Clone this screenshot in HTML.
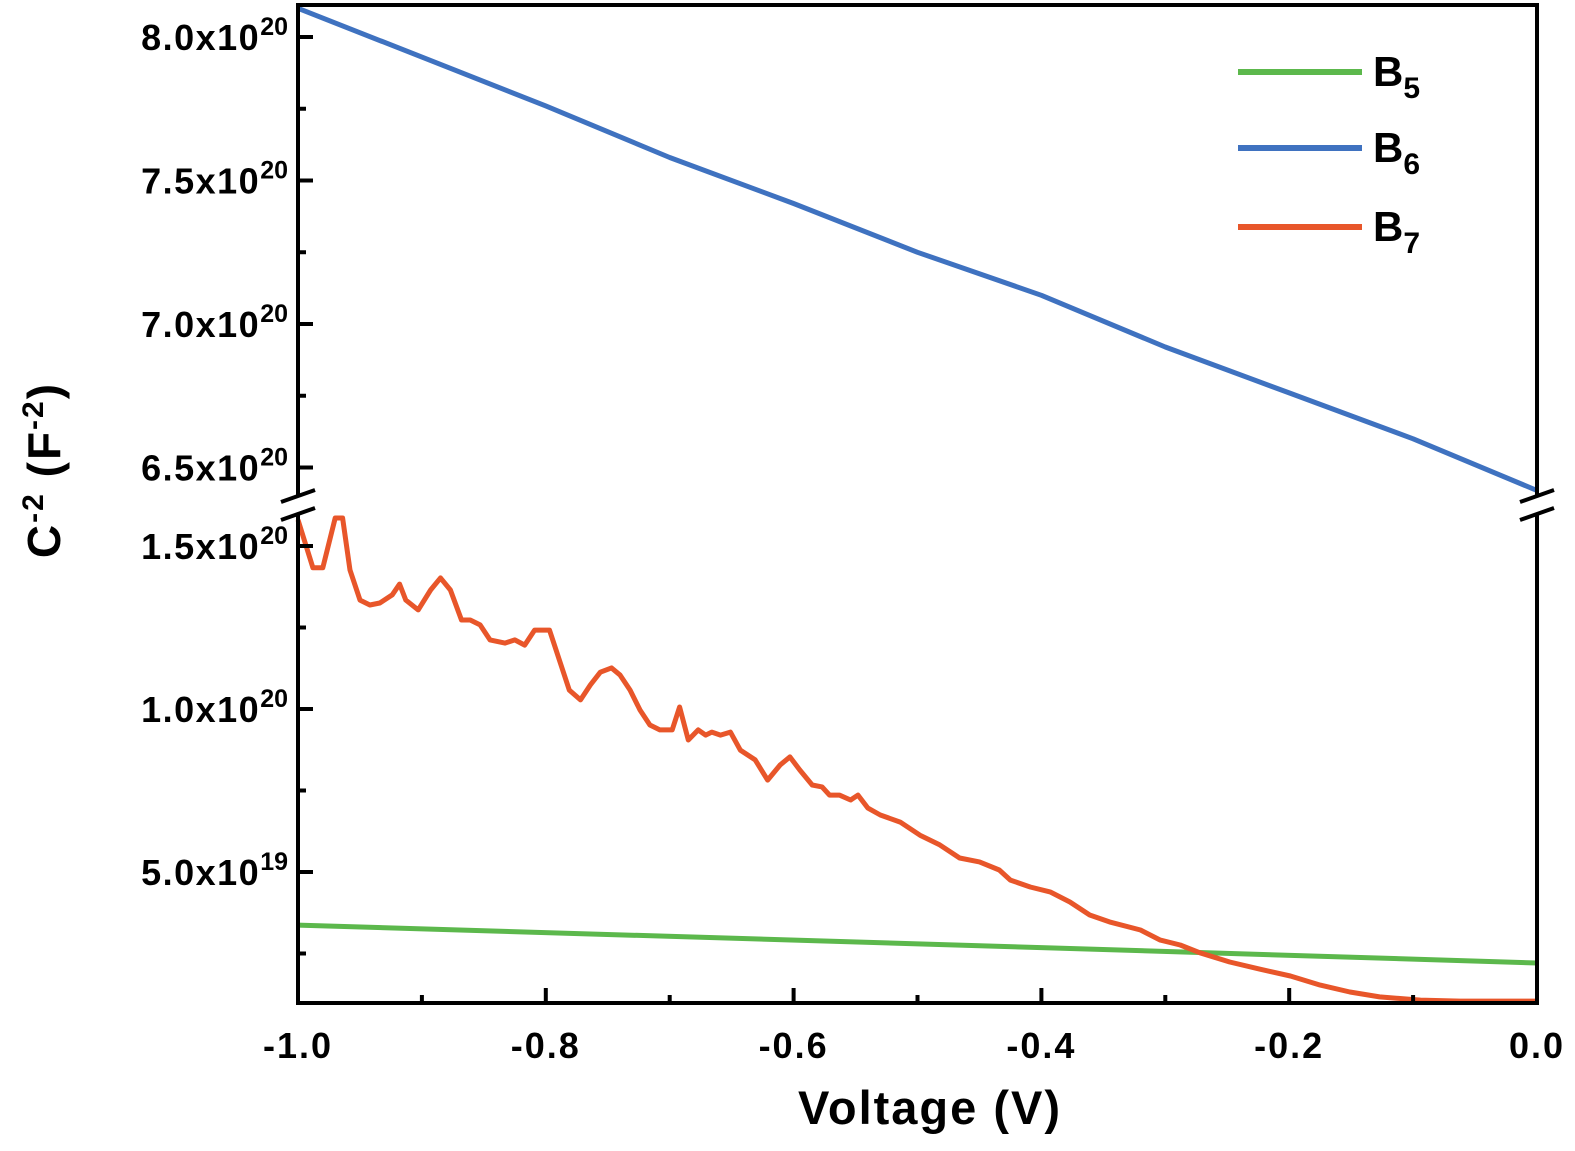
<!DOCTYPE html>
<html><head><meta charset="utf-8"><style>
body{margin:0;background:#fff;}
svg{display:block;font-family:"Liberation Sans",Arial,sans-serif;font-weight:bold;}
</style></head><body>
<svg id="chart" width="1575" height="1151" viewBox="0 0 1575 1151" xmlns="http://www.w3.org/2000/svg">
<g id="plot"></g>
</svg>
<script>
const b5V = [-1.0, -0.4, 0.0];
const b5C = [0.337, 0.268, 0.221];
const b6V = [-1.0, -0.9, -0.8, -0.7, -0.6, -0.5, -0.4, -0.3, -0.2, -0.1, 0.0];
const b6C = [8.10, 7.93, 7.76, 7.58, 7.42, 7.25, 7.10, 6.92, 6.76, 6.60, 6.42];
const b7V = [-1,-0.988,-0.98,-0.97,-0.964,-0.958,-0.95,-0.942,-0.934,-0.924,-0.918,-0.913,-0.903,-0.893,-0.885,-0.877,-0.868,-0.861,-0.853,-0.845,-0.833,-0.825,-0.817,-0.809,-0.797,-0.789,-0.781,-0.772,-0.764,-0.756,-0.747,-0.74,-0.732,-0.724,-0.716,-0.708,-0.698,-0.692,-0.685,-0.677,-0.671,-0.666,-0.659,-0.651,-0.643,-0.631,-0.621,-0.611,-0.603,-0.595,-0.585,-0.577,-0.571,-0.563,-0.554,-0.548,-0.54,-0.53,-0.514,-0.498,-0.482,-0.466,-0.45,-0.434,-0.425,-0.409,-0.393,-0.377,-0.361,-0.345,-0.32,-0.304,-0.288,-0.272,-0.248,-0.224,-0.199,-0.175,-0.151,-0.127,-0.094,-0.062,0];
const b7C = [1.58,1.433,1.433,1.586,1.586,1.426,1.334,1.319,1.325,1.35,1.383,1.334,1.304,1.365,1.402,1.365,1.273,1.273,1.258,1.212,1.202,1.212,1.196,1.242,1.242,1.15,1.058,1.028,1.074,1.113,1.126,1.104,1.058,0.997,0.951,0.936,0.936,1.006,0.905,0.936,0.92,0.929,0.92,0.929,0.874,0.844,0.782,0.828,0.853,0.813,0.767,0.761,0.736,0.736,0.721,0.736,0.696,0.675,0.653,0.613,0.583,0.543,0.531,0.506,0.475,0.454,0.439,0.408,0.368,0.347,0.322,0.291,0.276,0.252,0.224,0.202,0.181,0.153,0.132,0.117,0.107,0.104,0.104];
const xTicks = [-1.0, -0.8, -0.6, -0.4, -0.2, 0.0];
const xTickLabels = ["-1.0","-0.8","-0.6","-0.4","-0.2","0.0"];
const upTicks = [8.0, 7.5, 7.0, 6.5];
const upTickMant = ["8.0","7.5","7.0","6.5"];
const upTickExp = ["20","20","20","20"];
const loTicks = [1.5, 1.0, 0.5];
const loTickMant = ["1.5","1.0","5.0"];
const loTickExp = ["20","20","19"];

const NS="http://www.w3.org/2000/svg";
const g=document.getElementById('plot');
const L=298,R=1537,T=5,B=1003,UB=497,LT=514;
const xs=v=>L+(v+1)*(R-L);
const yU=c=>37+(8.0-c)*287;
const yL=c=>546+(1.5-c)*326;
function mk(tag,attrs,parent){const e=document.createElementNS(NS,tag);for(const k in attrs)e.setAttribute(k,attrs[k]);(parent||g).appendChild(e);return e;}

function series(V,C,fy,color,name){
  const d=V.map((v,i)=>(i?'L':'M')+xs(v).toFixed(1)+','+fy(C[i]).toFixed(1)).join(' ');
  const p=mk('path',{d:d,fill:'none',stroke:color,'stroke-width':5,'stroke-linejoin':'round'});
  
  
}
series(b5V,b5C,yL,'#5cb84c','series-b5');
series(b6V,b6C,yU,'#3f72c0','series-b6');
series(b7V,b7C,yL,'#e8562a','series-b7');

const ax=mk('g',{stroke:'#000','stroke-width':4,fill:'none'});


mk('line',{x1:L-2,y1:T,x2:R+2,y2:T},ax);
mk('line',{x1:L-2,y1:B,x2:R+2,y2:B},ax);
mk('line',{x1:L,y1:T,x2:L,y2:UB},ax);
mk('line',{x1:L,y1:LT,x2:L,y2:B},ax);
mk('line',{x1:R,y1:T,x2:R,y2:UB},ax);
mk('line',{x1:R,y1:LT,x2:R,y2:B},ax);
[L,R].forEach(x=>{
  mk('line',{x1:x-17,y1:502,x2:x+17,y2:490},ax);
  mk('line',{x1:x-17,y1:520,x2:x+17,y2:508},ax);
});
xTicks.forEach((v,i)=>{
  mk('line',{x1:xs(v),y1:B,x2:xs(v),y2:B-15},ax);
  if(i<xTicks.length-1){const m=v+0.1;mk('line',{x1:xs(m),y1:B,x2:xs(m),y2:B-8},ax);}
  const t=mk('text',{x:xs(v),y:1058,'text-anchor':'middle','font-size':36,'letter-spacing':2,fill:'#000'});
  t.textContent=xTickLabels[i];
  
  
});
function ylabel(y,m,e){
  const t=mk('text',{x:288,y:y+13,'text-anchor':'end','font-size':36,'letter-spacing':1.5,fill:'#000'});
  const a=mk('tspan',{},t);a.textContent=m+'x10';
  const b=mk('tspan',{dy:-15,'font-size':25,'letter-spacing':0},t);b.textContent=e;
  
  
}
upTicks.forEach((c,i)=>{
  mk('line',{x1:L,y1:yU(c),x2:L+15,y2:yU(c)},ax);
  if(i<upTicks.length-1) mk('line',{x1:L,y1:yU(c-0.25),x2:L+8,y2:yU(c-0.25)},ax);
  ylabel(yU(c),upTickMant[i],upTickExp[i]);
});
loTicks.forEach((c,i)=>{
  mk('line',{x1:L,y1:yL(c),x2:L+15,y2:yL(c)},ax);
  mk('line',{x1:L,y1:yL(c-0.25),x2:L+8,y2:yL(c-0.25)},ax);
  ylabel(yL(c),loTickMant[i],loTickExp[i]);
});

let t=mk('text',{x:930,y:1124,'text-anchor':'middle','font-size':47,'letter-spacing':2,fill:'#000'});
t.textContent='Voltage (V)';


t=mk('text',{transform:'translate(60,470) rotate(-90)','text-anchor':'middle','font-size':46,'letter-spacing':2,fill:'#000'});
t.innerHTML='C<tspan dy="-17" font-size="30">-2</tspan><tspan dy="17"> (F</tspan><tspan dy="-17" font-size="30">-2</tspan><tspan dy="17">)</tspan>';



const leg=[['B','5','#5cb84c',72],['B','6','#3f72c0',148],['B','7','#e8562a',227]];
leg.forEach(l=>{
  const e=mk('g',{});
  
  
  mk('line',{x1:1238,y1:l[3],x2:1362,y2:l[3],stroke:l[2],'stroke-width':6},e);
  const tx=mk('text',{x:1373,y:l[3]+14,'font-size':42,fill:'#000'},e);
  tx.innerHTML=l[0]+'<tspan dy="12" font-size="30">'+l[1]+'</tspan>';
});
</script>
</body></html>
